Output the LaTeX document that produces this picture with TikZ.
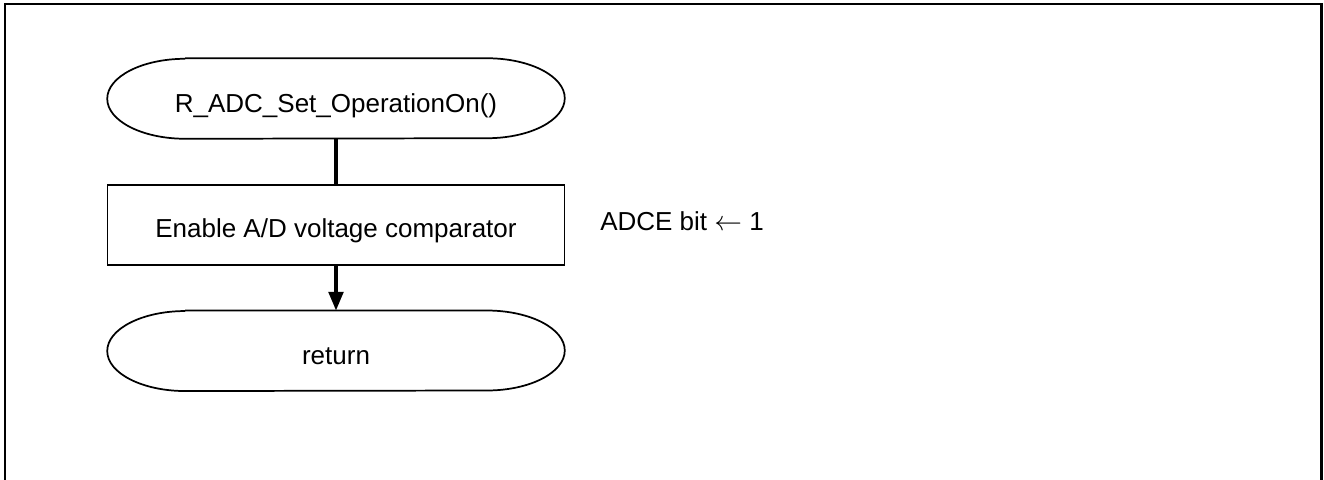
\documentclass[tikz,border=0pt]{standalone}
\usepackage{fontspec}
\setmainfont{Liberation Sans}
\usetikzlibrary{positioning}
\usetikzlibrary{arrows.meta}

\begin{document}
\begin{tikzpicture}[x=0.75pt, y=-0.75pt,
    terminal/.style={rectangle, minimum width=342.75pt, minimum height=60pt, text height=25pt, text depth=4pt, font=\fontsize{19.5}{23}\selectfont},
    process/.style={draw, line width=1.3pt, rectangle, minimum width=342.75pt, minimum height=60pt, text height=24pt, text depth=4.5pt, font=\fontsize{19.5}{23}\selectfont},
    flow/.style={line width=2.5pt}]
    \useasboundingbox (0, 0) rectangle (1324, 479);
    \draw[line width=1.6pt] (4.6, 482) -- (4.6, 4) -- (1321.5, 4) -- (1321.5, 482);

    \node[terminal] (start) at (336, 98.5) {R\_ADC\_Set\_OperationOn()};
    \node[process, below=33.75pt of start] (enable) {Enable A/D voltage comparator};
    \node[terminal, below=33.75pt of enable] (ret) {return};
    \node[anchor=west, inner sep=0pt, font=\fontsize{19.5}{23}\selectfont] (adce) at ([xshift=26pt, yshift=2.5pt]enable.east) {ADCE bit $\leftarrow$ 1};

    % terminal outlines with flat elliptic ends
    \foreach \n in {start, ret}
        \draw[line width=1.3pt] ([xshift=58.5pt]\n.north west) -- ([xshift=-58.5pt]\n.north east)
            arc[start angle=90, end angle=-90, x radius=58.5pt, y radius=30pt]
            -- ([xshift=58.5pt]\n.south west)
            arc[start angle=270, end angle=90, x radius=58.5pt, y radius=30pt];

    \draw[flow] (start) -- (enable);
    \draw[flow, -{Triangle[length=14pt, width=11pt]}] (enable) -- (ret);
\end{tikzpicture}
\end{document}
